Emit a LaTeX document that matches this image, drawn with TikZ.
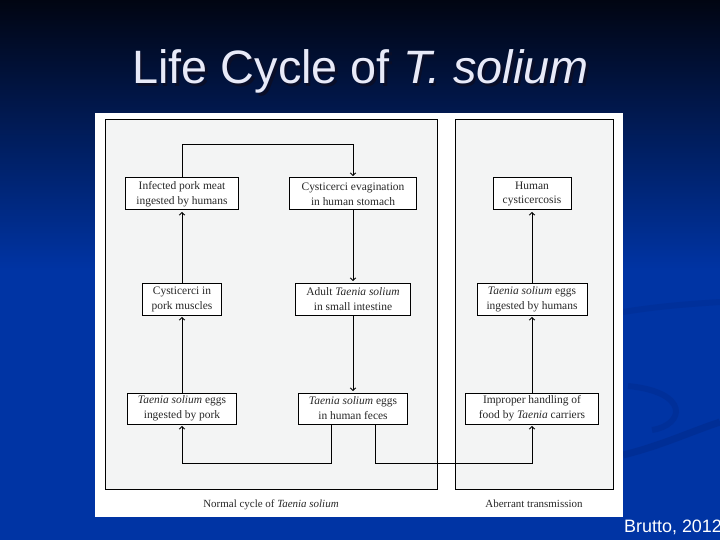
\documentclass[tikz,border=0pt]{standalone}
\usepackage{fontspec}
\setmainfont{Liberation Serif}
\newfontfamily\arialfont{Liberation Sans}
\usetikzlibrary{arrows.meta,calc}
\definecolor{panelfill}{RGB}{243,244,244}
\definecolor{titlecol}{RGB}{232,234,248}
\definecolor{titleshadow}{RGB}{10,14,40}
\definecolor{bgtop}{RGB}{1,5,18}
\definecolor{bgbot}{RGB}{0,52,164}
\definecolor{swoosh}{RGB}{0,40,135}
\definecolor{inktext}{RGB}{40,40,40}
\newcommand{\titletext}{Life Cycle of \textit{T. solium}}
\begin{document}
\begin{tikzpicture}[x=1bp,y=-1bp,
  box/.style={draw=black,line width=1bp,fill=white,align=center,inner sep=1bp,
    font=\fontsize{11.5}{15}\selectfont,text=inktext},
  conn/.style={line width=0.9bp,-{Straight Barb[length=2.5bp,width=5.5bp]},shorten >=1.5bp},
  panel/.style={draw=black,line width=1bp,fill=panelfill},
  caption/.style={font=\fontsize{11}{13}\selectfont,text=inktext,anchor=base,inner sep=0pt}]
\useasboundingbox (0,0) rectangle (720,540);
% background
\shade[top color=bgtop,bottom color=bgbot] (0,0) rectangle (720,270);
\fill[bgbot] (0,270) rectangle (720,540);
\draw[swoosh,line width=7bp,opacity=0.45] (623,455) .. controls (660,446) and (690,432) .. (720,422);
\draw[swoosh,line width=6bp,opacity=0.35] (628,386) .. controls (690,392) and (685,425) .. (652,430);
\draw[swoosh,line width=6bp,opacity=0.3] (623,312) .. controls (660,306) and (690,304) .. (720,302);
% title (with drop shadow)
\node[font=\arialfont\fontsize{47}{52}\selectfont,anchor=base,inner sep=0pt] (title) at (360.5,84)
  {\rlap{\hspace{2.5bp}\raisebox{-2.5bp}{\color{titleshadow}\titletext}}\color{titlecol}\titletext};
% figure
\fill[white] (95,113) rectangle (623,517);
\draw[panel] (105,120) rectangle (437,489);
\draw[panel] (455,120) rectangle (613,489);
% boxes
\node[box,minimum width=113bp,minimum height=32bp] (A) at (182,194) {Infected pork meat\\ingested by humans};
\node[box,minimum width=127bp,minimum height=32bp] (B) at (353,194) {Cysticerci evagination\\in human stomach};
\node[box,minimum width=78bp,minimum height=32bp] (C) at (532,194) {Human\\cysticercosis};
\node[box,minimum width=79bp,minimum height=32bp] (D) at (182,299) {Cysticerci in\\pork muscles};
\node[box,minimum width=115bp,minimum height=32bp] (E) at (353,299) {Adult \textit{Taenia solium}\\in small intestine};
\node[box,minimum width=110bp,minimum height=32bp] (F) at (532,299) {\textit{Taenia solium} eggs\\ingested by humans};
\node[box,minimum width=109bp,minimum height=31bp] (G) at (182,408.5) {\textit{Taenia solium} eggs\\ingested by pork};
\node[box,minimum width=109bp,minimum height=31bp] (H) at (353,408.5) {\textit{Taenia solium} eggs\\in human feces};
\node[box,minimum width=133bp,minimum height=31bp] (I) at (532,408.5) {Improper handling of\\food by \textit{Taenia} carriers};
% connectors
\coordinate (top) at (0,144);
\coordinate (low) at (0,463);
\draw[conn] (A.north) -- (A.north |- top) -| (B.north);
\draw[conn] (B.south) -- (E.north);
\draw[conn] (E.south) -- (H.north);
\draw[conn] (G.north) -- (D.south);
\draw[conn] (D.north) -- (A.south);
\draw[conn] (I.north) -- (F.south);
\draw[conn] (F.north) -- (C.south);
\draw[conn] ([xshift=-22bp]H.south) |- (G.south |- low) -- (G.south);
\draw[conn] ([xshift=22bp]H.south) |- (I.south |- low) -- (I.south);
% captions
\node[caption] (cap1) at (271,507) {Normal cycle of \textit{Taenia solium}};
\node[caption] (cap2) at (534,507) {Aberrant transmission};
% citation
\node[font=\arialfont\fontsize{18}{20}\selectfont,text=white,anchor=base west,inner sep=0pt] (cite) at (624,532) {Brutto, 2012};
\end{tikzpicture}
\end{document}
